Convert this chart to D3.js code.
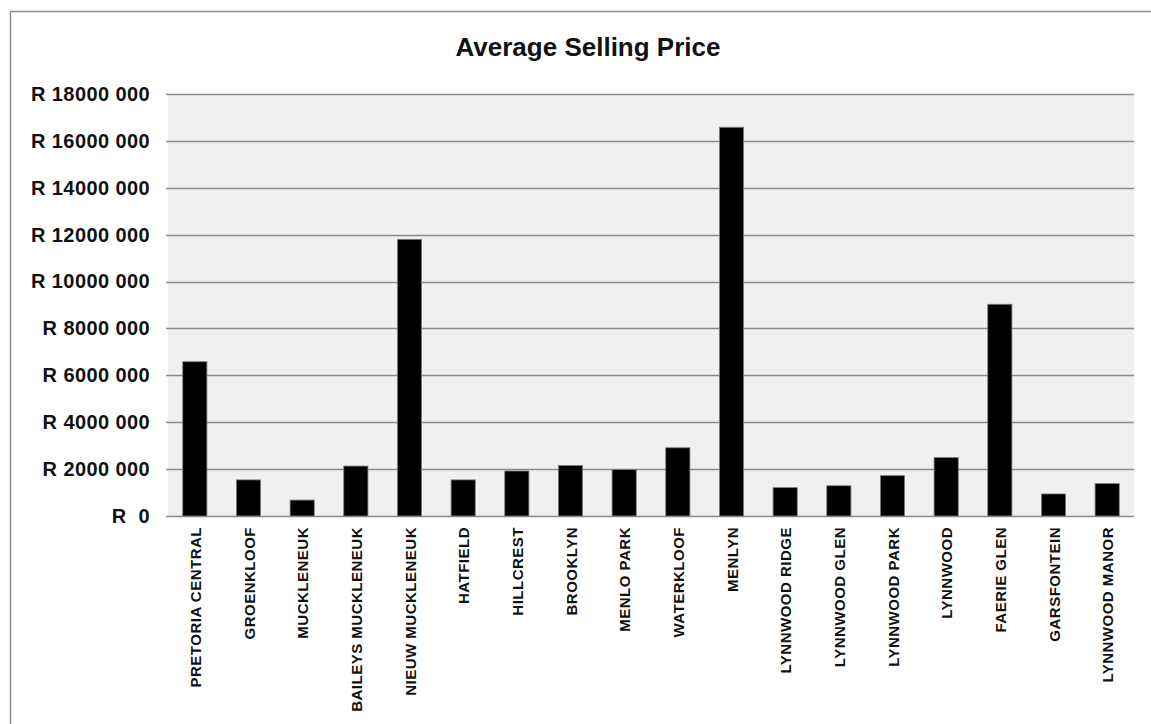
<!DOCTYPE html>
<html>
<head>
<meta charset="utf-8">
<script src="https://cdn.jsdelivr.net/npm/d3@7"></script>
<style>
  html, body { margin: 0; padding: 0; background: #fff; }
  svg { display: block; }
</style>
</head>
<body>
<svg id="chart" width="1151" height="724"></svg>
<script>
// Suburbs and their average selling prices (Rand)
const suburbs = [
  "PRETORIA CENTRAL", "GROENKLOOF", "MUCKLENEUK", "BAILEYS MUCKLENEUK",
  "NIEUW MUCKLENEUK", "HATFIELD", "HILLCREST", "BROOKLYN", "MENLO PARK",
  "WATERKLOOF", "MENLYN", "LYNNWOOD RIDGE", "LYNNWOOD GLEN", "LYNNWOOD PARK",
  "LYNNWOOD", "FAERIE GLEN", "GARSFONTEIN", "LYNNWOOD MANOR"
];
const avgPrice = [
  6580000, 1540000, 680000, 2130000,
  11800000, 1540000, 1920000, 2150000, 1980000,
  2910000, 16580000, 1210000, 1290000, 1720000,
  2490000, 9030000, 940000, 1380000
];
const priceTicks = [0, 2000000, 4000000, 6000000, 8000000, 10000000, 12000000, 14000000, 16000000, 18000000];
const priceTickLabels = ["R  0", "R 2000 000", "R 4000 000", "R 6000 000", "R 8000 000", "R 10000 000",
  "R 12000 000", "R 14000 000", "R 16000 000", "R 18000 000"];
const chartTitle = "Average Selling Price";

const FONT = "Arial, 'Liberation Sans', sans-serif";
const svg = d3.select("#chart");
const plot = { left: 168, right: 1134, top: 94, bottom: 516 };

// Outer chart frame
svg.append("path")
  .attr("d", `M1151,11.5 H10.5 V724`)
  .attr("fill", "none")
  .attr("stroke", "#8c8c8c")
  .attr("stroke-width", 1.5);

// Plot area background
svg.append("rect")
  .attr("x", plot.left).attr("y", plot.top)
  .attr("width", plot.right - plot.left).attr("height", plot.bottom - plot.top)
  .attr("fill", "#f0f0f0");

const x = d3.scaleBand()
  .domain(suburbs)
  .range([plot.left, plot.right])
  .paddingInner(0.55)
  .paddingOuter(0.275);

const y = d3.scaleLinear()
  .domain([0, 18000000])
  .range([plot.bottom, plot.top]);

// Horizontal gridlines
svg.append("g")
  .selectAll("line")
  .data(priceTicks)
  .join("line")
  .attr("x1", plot.left - 2).attr("x2", plot.right)
  .attr("y1", d => Math.round(y(d)) + 0.5).attr("y2", d => Math.round(y(d)) + 0.5)
  .attr("stroke", "#8a8a8a")
  .attr("stroke-width", 1.6);

// Y axis labels
const yAxis = d3.axisLeft(y)
  .tickValues(priceTicks)
  .tickSize(0)
  .tickPadding(18)
  .tickFormat((d, i) => priceTickLabels[i]);
svg.append("g")
  .attr("transform", `translate(${plot.left},0)`)
  .call(yAxis)
  .call(g => g.select(".domain").remove())
  .selectAll("text")
  .attr("font-family", FONT)
  .attr("font-size", 20)
  .attr("font-weight", "bold")
  .attr("letter-spacing", 0.4)
  .attr("fill", "#111")
  .style("white-space", "pre");

// Bars
svg.append("g")
  .selectAll("rect")
  .data(suburbs.map((s, i) => ({ s, v: avgPrice[i] })))
  .join("rect")
  .attr("x", d => x(d.s))
  .attr("y", d => y(d.v))
  .attr("width", x.bandwidth())
  .attr("height", d => y(0) - y(d.v))
  .attr("fill", "#000")
  .attr("stroke", "#7a7a7a")
  .attr("stroke-width", 0.8);

// X axis category labels (rotated)
const xAxis = d3.axisBottom(x).tickSize(0).tickPadding(0);
svg.append("g")
  .attr("transform", `translate(0,${plot.bottom})`)
  .call(xAxis)
  .call(g => g.select(".domain").remove())
  .selectAll("text")
  .attr("transform", "rotate(-90)")
  .attr("x", -11)
  .attr("y", 1)
  .attr("dy", "0.35em")
  .attr("text-anchor", "end")
  .attr("font-family", FONT)
  .attr("font-size", 15)
  .attr("font-weight", "bold")
  .attr("letter-spacing", 0.5)
  .attr("fill", "#111");

// Title
svg.append("text")
  .attr("x", 588).attr("y", 56)
  .attr("text-anchor", "middle")
  .attr("font-family", FONT)
  .attr("font-size", 26)
  .attr("font-weight", "bold")
  .attr("fill", "#111")
  .text(chartTitle);
</script>
</body>
</html>
